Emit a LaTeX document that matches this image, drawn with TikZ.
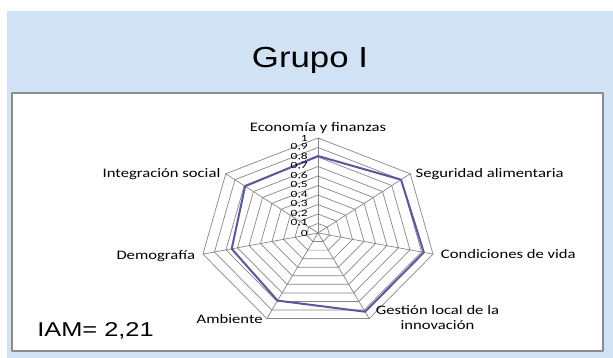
\documentclass[tikz,border=0pt]{standalone}
\usepackage{fontspec}
\setmainfont{Liberation Sans}
\newfontfamily\calib{Carlito}
\usetikzlibrary{positioning}
\definecolor{fondo}{RGB}{208,226,244}
\definecolor{marco}{RGB}{140,140,140}
\definecolor{rejilla}{RGB}{134,134,134}
\definecolor{serie}{RGB}{88,88,158}
\tikzset{
  eje/.style={draw=rejilla,line width=0.7pt},
  etiq/.style={font=\calib\fontsize{13}{15.6}\selectfont,inner sep=1pt,xscale=1.28},
  valor/.style={font=\calib\fontsize{9.5}{9.5}\selectfont,inner sep=0pt,anchor=east,xscale=1.42},
}
\begin{document}
\begin{tikzpicture}[line cap=round,line join=round,x=1pt,y=1pt]
\clip(0,0)rectangle(613,358);
\fill[white](0,0)rectangle(613,358);
\fill[fondo](7,0)rectangle(613,347);

\draw[marco,fill=white,line width=1.5pt](12,7)rectangle(603,265);
\draw(310,290) node[anchor=base,font=\fontsize{29}{29}\selectfont,xscale=1.2] (titulo) {Grupo I};
\draw(37,21) node[anchor=base west,inner sep=0pt,font=\fontsize{20}{20}\selectfont,xscale=1.27] (iam) {IAM= 2,21};

\begin{scope}[shift={(318,125)},x=118pt,y=95pt]
\coordinate (c) at (0,0);
\foreach \k in {0,...,6}
  \coordinate (v\k) at (90-\k*360/7:1);
\foreach \n in {1,...,10}
  \draw[eje] (90:{\n/10}) \foreach \k in {1,...,6}{ -- (90-\k*360/7:{\n/10})} -- cycle;
\foreach \k in {0,...,6}
  \draw[eje] (c) -- (v\k);

\foreach \k/\val in {0/0.81,1/0.90,2/0.92,3/0.92,4/0.79,5/0.75,6/0.79}
  \coordinate (d\k) at (90-\k*360/7:\val);
\draw[serie,line width=2pt] (d0) -- (d1) -- (d2) -- (d3) -- (d4) -- (d5) -- (d6) -- cycle;

\draw(0,0) node[valor,xshift=-7pt] (t0) {0};
\foreach \n in {1,...,9}
  \draw(0,{\n/10}) node[valor,xshift=-7pt] (t\n) {0,\n};
\draw(0,1) node[valor,xshift=-7pt] (t10) {1};
\end{scope}

\draw(v0) node[etiq,anchor=south,inner sep=0pt,yshift=4pt] (economia) {Economía y finanzas};
\draw(v1) node[etiq,anchor=west,xshift=3pt] (seguridad) {Seguridad alimentaria};
\draw(v2) node[etiq,anchor=west,xshift=5pt] (condiciones) {Condiciones de vida};
\draw(v3) node[etiq,anchor=west,align=center,xshift=4pt,yshift=1pt] (gestion) {Gestión local de la\\innovación};
\draw(v4) node[etiq,anchor=east,xshift=-2pt] (ambiente) {Ambiente};
\draw(v5) node[etiq,anchor=east,xshift=-5pt,yshift=-2pt] (demografia) {Demografía};
\draw(v6) node[etiq,anchor=east,xshift=-3pt] (integracion) {Integración social};
\end{tikzpicture}
\end{document}
